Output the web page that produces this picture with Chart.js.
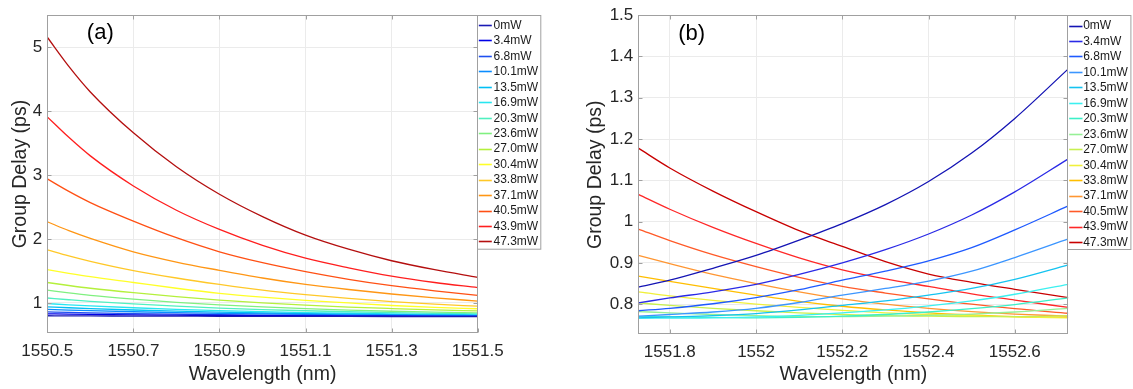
<!DOCTYPE html>
<html><head><meta charset="utf-8">
<script src="https://cdn.jsdelivr.net/npm/chart.js@4.4.1/dist/chart.umd.min.js"></script>
<style>
html,body{margin:0;padding:0;background:#fff;}
#wrap{position:relative;width:1133px;height:389px;overflow:hidden;}
canvas{position:absolute;top:0;}
#ca{left:0;}
#cb{left:560px;}
</style></head><body>
<div id="wrap">
<canvas id="ca" width="560" height="389"></canvas>
<canvas id="cb" width="573" height="389"></canvas>
</div>
<script>
// ---------- data ----------
const powerLabels = ['0mW','3.4mW','6.8mW','10.1mW','13.5mW','16.9mW','20.3mW','23.6mW','27.0mW','30.4mW','33.8mW','37.1mW','40.5mW','43.9mW','47.3mW'];

// Panel (a)
const wavelengthA = [1550.5, 1550.55, 1550.6, 1550.7, 1550.8, 1550.9, 1551.0, 1551.1, 1551.2, 1551.3, 1551.4, 1551.5];
const a_0mW    = [0.800, 0.798, 0.797, 0.795, 0.793, 0.792, 0.791, 0.790, 0.789, 0.788, 0.787, 0.786];
const a_3_4mW  = [0.830, 0.825, 0.821, 0.814, 0.809, 0.804, 0.801, 0.798, 0.795, 0.793, 0.791, 0.790];
const a_6_8mW  = [0.860, 0.852, 0.845, 0.834, 0.825, 0.817, 0.811, 0.806, 0.802, 0.799, 0.796, 0.794];
const a_10_1mW = [0.900, 0.889, 0.879, 0.862, 0.848, 0.837, 0.828, 0.820, 0.813, 0.808, 0.804, 0.800];
const a_13_5mW = [0.940, 0.925, 0.912, 0.890, 0.871, 0.856, 0.843, 0.833, 0.825, 0.818, 0.811, 0.806];
const a_16_9mW = [0.990, 0.971, 0.954, 0.925, 0.900, 0.880, 0.864, 0.850, 0.839, 0.830, 0.822, 0.815];
const a_20_3mW = [1.077, 1.050, 1.025, 0.985, 0.950, 0.920, 0.897, 0.878, 0.862, 0.848, 0.838, 0.830];
const a_23_6mW = [1.200, 1.158, 1.120, 1.060, 1.010, 0.970, 0.937, 0.910, 0.888, 0.870, 0.856, 0.845];
const a_27_0mW = [1.320, 1.273, 1.230, 1.160, 1.100, 1.045, 1.000, 0.965, 0.935, 0.912, 0.892, 0.876];
const a_30_4mW = [1.520, 1.463, 1.410, 1.320, 1.230, 1.150, 1.090, 1.040, 1.000, 0.960, 0.930, 0.909];
const a_33_8mW = [1.830, 1.735, 1.650, 1.505, 1.390, 1.290, 1.200, 1.130, 1.070, 1.020, 0.980, 0.950];
const a_37_1mW = [2.270, 2.130, 2.010, 1.800, 1.640, 1.510, 1.390, 1.290, 1.210, 1.140, 1.080, 1.030];
const a_40_5mW = [2.940, 2.745, 2.570, 2.280, 2.020, 1.800, 1.630, 1.490, 1.370, 1.270, 1.190, 1.120];
const a_43_9mW = [3.910, 3.590, 3.300, 2.830, 2.450, 2.150, 1.900, 1.700, 1.550, 1.420, 1.320, 1.240];
const a_47_3mW = [5.155, 4.700, 4.300, 3.660, 3.130, 2.700, 2.350, 2.060, 1.840, 1.660, 1.520, 1.400];
const seriesA = [a_0mW,a_3_4mW,a_6_8mW,a_10_1mW,a_13_5mW,a_16_9mW,a_20_3mW,a_23_6mW,a_27_0mW,a_30_4mW,a_33_8mW,a_37_1mW,a_40_5mW,a_43_9mW,a_47_3mW];
const xTicksA = [1550.5, 1550.7, 1550.9, 1551.1, 1551.3, 1551.5];
const xTickLabelsA = ['1550.5','1550.7','1550.9','1551.1','1551.3','1551.5'];
const yTicksA = [1, 2, 3, 4, 5];
const yTickLabelsA = ['1','2','3','4','5'];

// Panel (b)
const wavelengthB = [1551.727, 1551.8, 1551.9, 1552.0, 1552.1, 1552.2, 1552.3, 1552.4, 1552.5, 1552.6, 1552.724];
const b_0mW    = [0.841, 0.858, 0.887, 0.918, 0.955, 0.995, 1.041, 1.097, 1.166, 1.250, 1.370];
const b_3_4mW  = [0.803, 0.815, 0.830, 0.848, 0.872, 0.900, 0.932, 0.970, 1.016, 1.072, 1.152];
const b_6_8mW  = [0.784, 0.790, 0.801, 0.816, 0.835, 0.858, 0.880, 0.905, 0.937, 0.980, 1.038];
const b_10_1mW = [0.771, 0.775, 0.781, 0.790, 0.804, 0.822, 0.838, 0.856, 0.880, 0.913, 0.958];
const b_13_5mW = [0.767, 0.769, 0.772, 0.777, 0.786, 0.797, 0.808, 0.822, 0.838, 0.860, 0.895];
const b_16_9mW = [0.766, 0.766, 0.767, 0.769, 0.773, 0.779, 0.786, 0.796, 0.808, 0.824, 0.848];
const b_20_3mW = [0.770, 0.769, 0.768, 0.767, 0.768, 0.771, 0.775, 0.781, 0.789, 0.799, 0.815];
const b_23_6mW = [0.782, 0.779, 0.775, 0.772, 0.770, 0.770, 0.771, 0.773, 0.776, 0.781, 0.790];
const b_27_0mW = [0.803, 0.797, 0.790, 0.784, 0.779, 0.775, 0.772, 0.771, 0.770, 0.770, 0.772];
const b_30_4mW = [0.830, 0.820, 0.809, 0.800, 0.792, 0.785, 0.779, 0.775, 0.772, 0.769, 0.767];
const b_33_8mW = [0.868, 0.855, 0.838, 0.822, 0.807, 0.795, 0.786, 0.779, 0.774, 0.770, 0.768];
const b_37_1mW = [0.918, 0.898, 0.872, 0.850, 0.830, 0.813, 0.800, 0.790, 0.782, 0.776, 0.771];
const b_40_5mW = [0.982, 0.954, 0.920, 0.891, 0.865, 0.843, 0.827, 0.813, 0.800, 0.789, 0.778];
const b_43_9mW = [1.066, 1.030, 0.986, 0.947, 0.912, 0.883, 0.861, 0.843, 0.825, 0.810, 0.792];
const b_47_3mW = [1.178, 1.130, 1.074, 1.024, 0.978, 0.940, 0.903, 0.873, 0.853, 0.836, 0.816];
const seriesB = [b_0mW,b_3_4mW,b_6_8mW,b_10_1mW,b_13_5mW,b_16_9mW,b_20_3mW,b_23_6mW,b_27_0mW,b_30_4mW,b_33_8mW,b_37_1mW,b_40_5mW,b_43_9mW,b_47_3mW];
const xTicksB = [1551.8, 1552.0, 1552.2, 1552.4, 1552.6];
const xTickLabelsB = ['1551.8','1552','1552.2','1552.4','1552.6'];
const yTicksB = [0.8, 0.9, 1.0, 1.1, 1.2, 1.3, 1.4, 1.5];
const yTickLabelsB = ['0.8','0.9','1','1.1','1.2','1.3','1.4','1.5'];

// ---------- styles ----------
const colorsA = ['#1a1ab4','#0000e6','#1e50f0','#0a8cff','#00bff5','#28e6f0','#50f0c0','#80f080','#b4f03c','#ffff28','#ffc828','#ff9614','#ff5014','#ff1e1e','#b40f0f'];
const colorsB = ['#1414b4','#2a2ae6','#1e5aff','#3c96ff','#14c3f0','#3cf0f0','#3cf0c8','#96f096','#c8f050','#f0f03c','#ffbe00','#ff9632','#ff5a28','#ff2828','#c80000'];
const FONT = '"Liberation Sans", Arial, Helvetica, sans-serif';
const TXT = '#262626';
const AXIS = '#a0a0a0';
const GRID = '#ebebeb';

const decoPlugin = {
  id: 'deco',
  afterDatasetsDraw(chart, args, o) {
    const {ctx, chartArea: a, scales: {x, y}} = chart;
    ctx.save();
    ctx.strokeStyle = AXIS; ctx.lineWidth = 1;
    const L = Math.round(a.left) + 0.5, R = Math.round(a.right) - 0.5;
    const T = Math.round(a.top) + 0.5, B = Math.round(a.bottom) - 0.5;
    ctx.strokeRect(L, T, R - L, B - T);
    ctx.beginPath();
    x.ticks.forEach(t => {
      const p = Math.round(x.getPixelForValue(t.value)) + 0.5;
      ctx.moveTo(p, B); ctx.lineTo(p, B - 4);
      ctx.moveTo(p, T); ctx.lineTo(p, T + 4);
    });
    y.ticks.forEach(t => {
      const p = Math.round(y.getPixelForValue(t.value)) + 0.5;
      ctx.moveTo(L, p); ctx.lineTo(L + 4, p);
      ctx.moveTo(R, p); ctx.lineTo(R - 4, p);
    });
    ctx.stroke();
    ctx.restore();
  },
  afterDraw(chart, args, o) {
    const {ctx, chartArea: a} = chart;
    ctx.save();
    // panel label
    ctx.fillStyle = '#000';
    ctx.font = '22px ' + FONT;
    ctx.textAlign = 'center'; ctx.textBaseline = 'middle';
    ctx.fillText(o.panel, a.left + o.panelDx, a.top + o.panelDy);
    // legend
    const lx = Math.round(a.right) - 0.5, ly = Math.round(a.top) + 0.5;
    ctx.fillStyle = '#fff';
    ctx.fillRect(lx, ly, o.legW, o.legH);
    ctx.strokeStyle = AXIS; ctx.lineWidth = 1;
    ctx.strokeRect(lx, ly, o.legW, o.legH);
    ctx.font = '12px ' + FONT;
    ctx.textAlign = 'left'; ctx.textBaseline = 'middle';
    chart.data.datasets.forEach((ds, i) => {
      const cy = ly + o.row0 + i * o.pitch;
      ctx.strokeStyle = ds.borderColor; ctx.lineWidth = 1.6;
      ctx.beginPath(); ctx.moveTo(lx + o.s0, Math.round(cy) + 0.5); ctx.lineTo(lx + o.s1, Math.round(cy) + 0.5); ctx.stroke();
      ctx.fillStyle = '#1a1a1a';
      ctx.fillText(ds.label, lx + o.tx, cy + 0.5);
    });
    ctx.restore();
  }
};

function build(id, xs, series, colors, xT, xTL, yT, yTL, xMin, xMax, yMin, yMax, g) {
  const datasets = series.map((vals, i) => ({
    label: powerLabels[i],
    data: vals.map((v, k) => ({x: xs[k], y: v})),
    borderColor: colors[i],
    backgroundColor: colors[i],
    borderWidth: 1.3,
    pointRadius: 0,
    fill: false,
    cubicInterpolationMode: 'monotone'
  }));
  return new Chart(document.getElementById(id), {
    type: 'line',
    data: {datasets},
    plugins: [decoPlugin],
    options: {
      responsive: false,
      animation: false,
      devicePixelRatio: 1,
      layout: {padding: {left: 0, top: g.top, right: g.right, bottom: 0}},
      plugins: {
        legend: {display: false},
        tooltip: {enabled: false},
        deco: g.deco
      },
      scales: {
        x: {
          type: 'linear', min: xMin, max: xMax,
          afterBuildTicks: s => { s.ticks = xT.map(v => ({value: v})); },
          afterFit: s => { s.height = g.xH; },
          grid: {color: GRID, drawTicks: false},
          border: {display: false},
          ticks: {padding: 8, color: TXT, font: {family: FONT, size: 17}, maxRotation: 0, autoSkip: false,
                  callback: (v) => xTL[xT.indexOf(v)]},
          title: {display: true, text: 'Wavelength (nm)', color: TXT, font: {family: FONT, size: 19.5}, padding: {top: 0, bottom: 3}}
        },
        y: {
          type: 'linear', min: yMin, max: yMax,
          afterBuildTicks: s => { s.ticks = yT.map(v => ({value: v})); },
          afterFit: s => { s.width = g.yW; },
          grid: {color: GRID, drawTicks: false},
          border: {display: false},
          ticks: {padding: 5, color: TXT, font: {family: FONT, size: 17}, autoSkip: false,
                  callback: (v) => yTL[yT.indexOf(v)]},
          title: {display: true, text: 'Group Delay (ps)', color: TXT, font: {family: FONT, size: 19.5}, padding: {top: g.yTitlePad, bottom: 0}}
        }
      }
    }
  });
}

build('ca', wavelengthA, seriesA, colorsA, xTicksA, xTickLabelsA, yTicksA, yTickLabelsA,
      1550.5, 1551.5, 0.53, 5.5,
      {top: 11.3, right: 82.3, xH: 56, yW: 47.3, yTitlePad: 9.3,
       deco: {panel: '(a)', panelDx: 53, panelDy: 18, legW: 63.3, legH: 233.7, row0: 9.4, pitch: 15.47, s0: 1.3, s1: 14.3, tx: 16}});

build('cb', wavelengthB, seriesB, colorsB, xTicksB, xTickLabelsB, yTicksB, yTickLabelsB,
      1551.727, 1552.724, 0.727, 1.5,
      {top: 12.7, right: 64.7, xH: 54.7, yW: 78.3, yTitlePad: 24.3,
       deco: {panel: '(b)', panelDx: 53.4, panelDy: 18.3, legW: 63.4, legH: 234, row0: 10, pitch: 15.47, s0: 1.7, s1: 15, tx: 15.7}});
</script>
</body></html>
